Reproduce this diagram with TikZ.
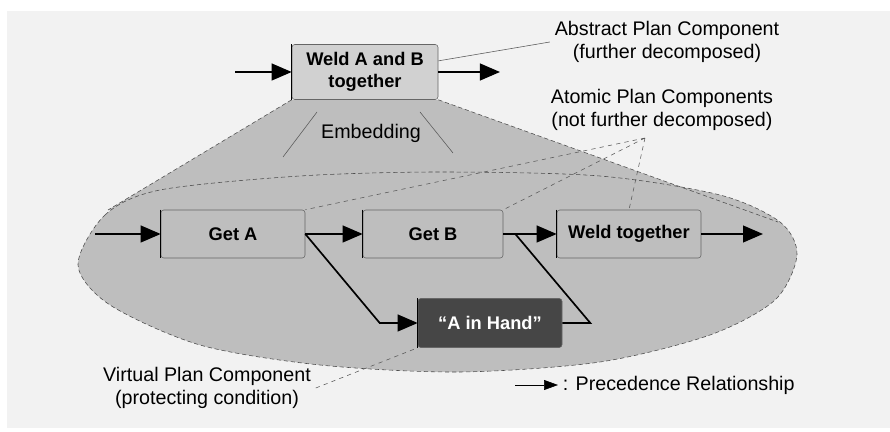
\documentclass[tikz,border=0pt]{standalone}
\usepackage{fontspec}
\setmainfont{Liberation Sans}
\usetikzlibrary{arrows.meta,calc,backgrounds}
\definecolor{paper}{RGB}{242,242,242}
\definecolor{hatch}{RGB}{190,190,190}
\definecolor{virtual}{RGB}{70,70,70}

\begin{document}
\begin{tikzpicture}[x=0.025cm,y=-0.025cm,
  plan/.style={draw=black!60,fill=hatch,rounded corners=2pt,minimum width=3.6cm,minimum height=1.2cm,
    align=center,font=\bfseries\fontsize{13}{16}\selectfont},
  note/.style={align=center,font=\fontsize{14}{16}\selectfont},
  prec/.style={-{Triangle[length=0.5cm,width=0.42cm]},line width=1.2pt},
  lead/.style={black!65,thin},
  rim/.style={black!70,densely dashed}]
  \useasboundingbox (0,0) rectangle (890,432);

  % the abstract component and its refinement
  \node[plan,fill=black!18,minimum width=3.65cm,minimum height=1.375cm] (wab) at (365,72) {Weld A and B\\together};
  \node[plan] (geta) at (233,234) {Get A};
  \node[plan,minimum width=3.5cm] (getb) at (433,234) {Get B};
  \node[plan] (weld) at (629,234) {Weld together};
  \node[plan,fill=virtual,text=white,minimum height=1.225cm] (hand) at (490,323) {“A in Hand”};

  \begin{scope}[on background layer]
    \fill[paper] (7,11) rectangle (890,428);
    \fill[hatch] (wab.south west) -- (108,210) -- (778,222) -- (wab.south east) -- cycle;
    \path[fill=hatch,draw=black!70,densely dashed] plot[smooth cycle] coordinates {
      (78,265) (105,215) (160,190) (300,176) (440,172) (600,176) (720,195) (780,222)
      (797,255) (775,300) (710,335) (600,362) (460,372) (320,365) (200,345) (110,305)};
    \draw[rim] (wab.south west) -- (108,210) (wab.south east) -- (778,222);
  \end{scope}

  \foreach \b in {wab,geta,getb,weld,hand}
    \draw[line width=1pt] (\b.north west) -- (\b.south west);

  % labels
  \node[note] (abs) at (667,42) {Abstract Plan Component\\(further decomposed)};
  \node[note] (atom) at (662,110) {Atomic Plan Components\\(not further decomposed)};
  \node[note] (emb) at (371,133) {Embedding};
  \node[note] (virt) at (207,388) {Virtual Plan Component\\(protecting condition)};
  \node[note,anchor=west] (key) at (558,385) {: Precedence Relationship};

  \coordinate (in0) at (235,72);
  \coordinate (out0) at (500,72);
  \coordinate (in1) at (95,234);
  \coordinate (out1) at (763,234);
  \coordinate (atomtip) at (645,138);
  \coordinate (keytail) at (515,385);
  \coordinate (emb1) at (317,112);
  \coordinate (emb2) at (283,157);
  \coordinate (emb3) at (420,112);
  \coordinate (emb4) at (453,153);

  % precedence
  \draw[prec] (in0) -- (wab);
  \draw[prec] (wab) -- (out0);
  \draw[prec] (in1) -- (geta);
  \draw[prec] (geta) -- (getb);
  \draw[prec] (getb) -- (weld);
  \draw[prec] (weld) -- (out1);
  \draw[prec] (geta.east) -- ($(hand.west)+(-38,0)$) -- (hand.west);
  \draw[line width=1.2pt] (hand.east) -- ($(hand.east)+(28,0)$) -- ($(getb.east)+(12,0)$);
  \draw[-{Triangle[length=0.35cm,width=0.25cm]},thin] (keytail) -- (key.west);

  % pointers
  \draw[lead] ($(wab.north east)!0.3!(wab.south east)$) -- (abs.west);
  \draw[lead] (emb1) -- (emb2) (emb3) -- (emb4);
  \draw[lead,dashed] (atomtip) -- (geta.north east) (atomtip) -- (getb.north east) (atomtip) -- (weld.north);
  \draw[lead,dashed] (virt.east) -- (hand.south west);
\end{tikzpicture}
\end{document}
